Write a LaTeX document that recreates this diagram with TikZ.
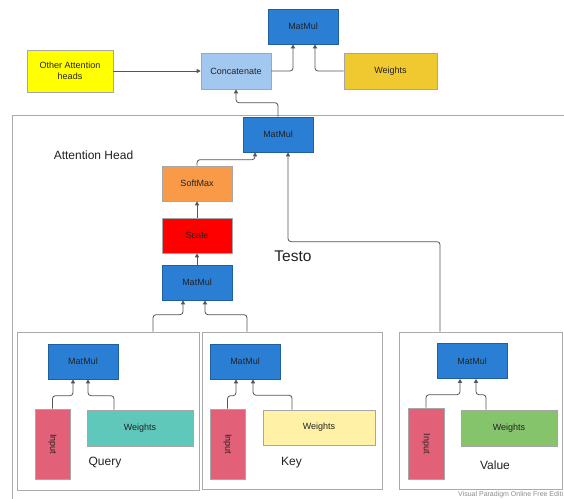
\documentclass[tikz,border=0pt]{standalone}
\usepackage{fontspec}
\setmainfont{Liberation Sans}
\usetikzlibrary{arrows.meta,calc}
\definecolor{mmblue}{HTML}{2A7FD5}
\definecolor{mmborder}{HTML}{1F5F9F}
\definecolor{concatc}{HTML}{A3C8F0}
\definecolor{yelc}{HTML}{FFFF00}
\definecolor{goldc}{HTML}{F0C830}
\definecolor{orangec}{HTML}{F99A48}
\definecolor{redc}{HTML}{FF0000}
\definecolor{pinkc}{HTML}{E36178}
\definecolor{tealc}{HTML}{60C8BA}
\definecolor{lyelc}{HTML}{FFF1A6}
\definecolor{greenc}{HTML}{86C46C}
\definecolor{linec}{HTML}{555555}
\definecolor{framec}{HTML}{AAAAAA}
\definecolor{txtc}{HTML}{222222}
\begin{document}
\begin{tikzpicture}[x=1pt,y=-1pt,
  box/.style={draw=black!35,line width=0.6pt,inner sep=0pt,font=\fontsize{9}{10.5}\selectfont,text=txtc,align=center},
  mm/.style={box,fill=mmblue,draw=mmborder,minimum width=70pt,minimum height=35pt},
  frame/.style={draw=framec,line width=0.7pt},
  conn/.style={draw=linec,line width=0.8pt,rounded corners=3pt,-{Triangle[length=4pt,width=4pt]}},
  lbl/.style={inner sep=0pt,text=txtc,font=\fontsize{12}{14}\selectfont}]
\useasboundingbox (0,0) rectangle (564,498);
\fill[white] (0,0) rectangle (564,498);
% big container
\draw[frame] (580,115) -- (12,115) -- (12,520);
% sub containers
\node[frame,minimum width=182pt,minimum height=158pt,inner sep=0pt] (qbox) at (108,411) {};
\node[frame,minimum width=180pt,minimum height=157pt,inner sep=0pt] (kbox) at (292,410.5) {};
\node[frame,minimum width=163pt,minimum height=157pt,inner sep=0pt] (vbox) at (480.5,410.5) {};
% top level
\node[mm] (mm0) at (303,26.5) {MatMul};
\node[box,fill=yelc,minimum width=86pt,minimum height=42pt] (oah) at (70,71) {Other Attention\\heads};
\node[box,fill=concatc,minimum width=70pt,minimum height=36pt] (concat) at (236,71) {Concatenate};
\node[box,fill=goldc,minimum width=93pt,minimum height=36pt] (w0) at (390.5,71) {Weights};
% attention head
\node[mm] (mmA) at (278,134.5) {MatMul};
\node[box,fill=orangec,minimum width=70pt,minimum height=35pt] (sm) at (197,183.5) {SoftMax};
\node[box,fill=redc,minimum width=70pt,minimum height=35pt] (sc) at (197,235.5) {Scale};
\node[mm] (mmB) at (197,282.5) {MatMul};
\node[lbl] (ahl) at (93.5,155) {Attention Head};
\node[inner sep=0pt,text=txtc,font=\fontsize{15.5}{18}\selectfont] (testo) at (293,256) {Testo};
% query
\node[mm] (qmm) at (83,361.5) {MatMul};
\node[box,fill=pinkc,minimum width=35pt,minimum height=70pt] (qin) at (52.5,444) {};
\node[inner sep=0pt,rotate=-90,font=\fontsize{9}{10.5}\selectfont,text=txtc] (qint) at (qin.center) {Input};
\node[box,fill=tealc,minimum width=106pt,minimum height=36pt] (qw) at (140,428) {Weights};
\node[lbl] (ql) at (105,463) {Query};
% key
\node[mm] (kmm) at (245,361.5) {MatMul};
\node[box,fill=pinkc,minimum width=35pt,minimum height=70pt] (kin) at (227.5,444) {};
\node[inner sep=0pt,rotate=-90,font=\fontsize{9}{10.5}\selectfont,text=txtc] (kint) at (kin.center) {Input};
\node[box,fill=lyelc,minimum width=112pt,minimum height=35pt] (kw) at (319,427.5) {Weights};
\node[lbl] (kl) at (291.5,463) {Key};
% value
\node[mm] (vmm) at (472,361) {MatMul};
\node[box,fill=pinkc,minimum width=36pt,minimum height=71pt] (vin) at (426,443.5) {};
\node[inner sep=0pt,rotate=-90,font=\fontsize{9}{10.5}\selectfont,text=txtc] (vint) at (vin.center) {Input};
\node[box,fill=greenc,minimum width=96pt,minimum height=36pt] (vw) at (509,428) {Weights};
\node[lbl] (vl) at (495,465) {Value};
% watermark
\node[anchor=west,inner sep=0pt,text=black!45,font=\fontsize{7}{8}\selectfont] (wm) at (458,494.5) {Visual Paradigm Online Free Editi};
% connectors top
\draw[conn] (oah.east) -- (concat.west);
\draw[conn] (concat.east) -| ([xshift=-10pt]mm0.south);
\draw[conn] (w0.west) -| ([xshift=12pt]mm0.south);
\draw[conn] (mmA.north) -- ++(0,-14) -| (concat.south);
% attention head
\draw[conn] (sm.north) -- ++(0,-6) -| ([xshift=-23pt]mmA.south);
\draw[conn] ([xshift=-40.5pt]vbox.north) -- ++(0,-90) -| ([xshift=10pt]mmA.south);
\draw[conn] (sc.north) -- (sm.south);
\draw[conn] (mmB.north) -- (sc.south);
\draw[conn] ([xshift=45pt]qbox.north) -- ++(0,-17) -| ([xshift=-14pt]mmB.south);
\draw[conn] ([xshift=-45pt]kbox.north) -- ++(0,-17) -| ([xshift=8pt]mmB.south);
% sub boxes
\draw[conn] (qin.north) -- ++(0,-13) -| ([xshift=-10pt]qmm.south);
\draw[conn] ([xshift=-26pt]qw.north) -- ++(0,-14) -| ([xshift=5pt]qmm.south);
\draw[conn] (kin.north) -- ++(0,-13) -| ([xshift=-9pt]kmm.south);
\draw[conn] ([xshift=-27pt]kw.north) -- ++(0,-14.5) -| ([xshift=8pt]kmm.south);
\draw[conn] (vin.north) -- ++(0,-13) -| ([xshift=-12pt]vmm.south);
\draw[conn] ([xshift=-23pt]vw.north) -- ++(0,-15) -| ([xshift=4pt]vmm.south);
\end{tikzpicture}
\end{document}
